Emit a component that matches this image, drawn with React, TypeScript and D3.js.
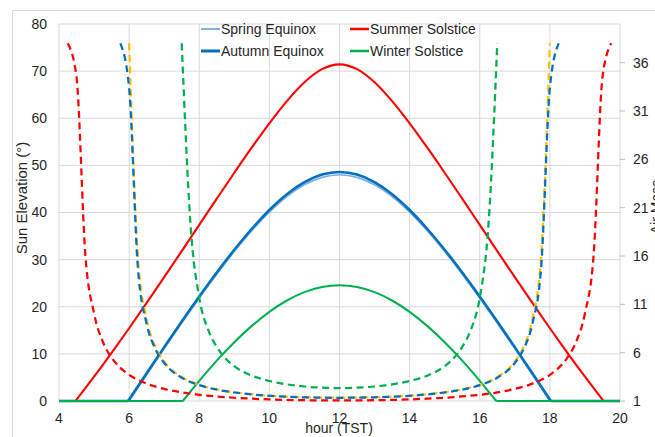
import React from "react";
import * as d3 from "d3";

// ---- Data ----
const xTicks = [4, 6, 8, 10, 12, 14, 16, 18, 20];
const leftTicks = [0, 10, 20, 30, 40, 50, 60, 70, 80];
const rightTicks = [1, 6, 11, 16, 21, 26, 31, 36];

// Sun elevation (°)
const springHours = [4, 6, 6.5, 7, 7.5, 8, 8.5, 9, 9.5, 10, 10.5, 11, 11.5, 12, 12.5, 13, 13.5, 14, 14.5, 15, 15.5, 16, 16.5, 17, 17.5, 18, 20];
const springElev = [0, 0, 5.57, 11.09, 16.52, 21.81, 26.9, 31.7, 36.12, 40.06, 43.36, 45.87, 47.45, 48.0, 47.45, 45.87, 43.36, 40.06, 36.12, 31.7, 26.9, 21.81, 16.52, 11.09, 5.57, 0, 0];

const summerHours = [4, 4.47, 4.5, 5, 5.5, 6, 6.5, 7, 7.5, 8, 8.5, 9, 9.5, 10, 10.5, 11, 11.5, 12, 12.5, 13, 13.5, 14, 14.5, 15, 15.5, 16, 16.5, 17, 17.5, 18, 18.5, 19, 19.5, 19.53, 20];
const summerElev = [0, 0, 0.3, 5.15, 10.21, 15.44, 20.81, 26.28, 31.81, 37.38, 42.94, 48.44, 53.81, 58.93, 63.64, 67.64, 70.42, 71.44, 70.42, 67.64, 63.64, 58.93, 53.81, 48.44, 42.94, 37.38, 31.81, 26.28, 20.81, 15.44, 10.21, 5.15, 0.3, 0, 0];

const autumnHours = [4, 5.97, 6, 6.5, 7, 7.5, 8, 8.5, 9, 9.5, 10, 10.5, 11, 11.5, 12, 12.5, 13, 13.5, 14, 14.5, 15, 15.5, 16, 16.5, 17, 17.5, 18, 18.03, 20];
const autumnElev = [0, 0, 0.33, 5.9, 11.43, 16.87, 22.17, 27.27, 32.09, 36.55, 40.53, 43.87, 46.42, 48.05, 48.6, 48.05, 46.42, 43.87, 40.53, 36.55, 32.09, 27.27, 22.17, 16.87, 11.43, 5.9, 0.33, 0, 0];

const winterHours = [4, 7.53, 8, 8.5, 9, 9.5, 10, 10.5, 11, 11.5, 12, 12.5, 13, 13.5, 14, 14.5, 15, 15.5, 16, 16.47, 20];
const winterElev = [0, 0, 4.28, 8.56, 12.47, 15.94, 18.92, 21.33, 23.1, 24.19, 24.56, 24.19, 23.1, 21.33, 18.92, 15.94, 12.47, 8.56, 4.28, 0, 0];

// Air mass (right axis)
const springAMHours = [6, 6.25, 6.5, 6.75, 7, 7.5, 8, 8.5, 9, 9.5, 10, 10.5, 11, 11.5, 12, 12.5, 13, 13.5, 14, 14.5, 15, 15.5, 16, 16.5, 17, 17.25, 17.5, 17.75, 18];
const springAM = [38, 15.9, 9.43, 6.6, 5.07, 3.48, 2.68, 2.21, 1.9, 1.7, 1.55, 1.46, 1.39, 1.36, 1.35, 1.36, 1.39, 1.46, 1.55, 1.7, 1.9, 2.21, 2.68, 3.48, 5.07, 6.6, 9.43, 15.9, 38];

const summerAMHours = [4.25, 4.5, 4.75, 5, 5.25, 5.5, 5.75, 6, 6.5, 7, 7.5, 8, 8.5, 9, 9.5, 10, 10.5, 11, 11.5, 12, 12.5, 13, 13.5, 14, 14.5, 15, 15.5, 16, 16.5, 17, 17.5, 18, 18.25, 18.5, 18.75, 19, 19.25, 19.5, 19.75];
const summerAM = [38, 34.5, 16.2, 10.06, 7.13, 5.48, 4.43, 3.71, 2.8, 2.25, 1.89, 1.645, 1.468, 1.336, 1.239, 1.167, 1.116, 1.081, 1.061, 1.055, 1.061, 1.081, 1.116, 1.167, 1.239, 1.336, 1.468, 1.645, 1.89, 2.25, 2.8, 3.71, 4.43, 5.48, 7.13, 10.06, 16.2, 34.5, 38];

const autumnAMHours = [5.75, 6, 6.25, 6.5, 6.75, 7, 7.5, 8, 8.5, 9, 9.5, 10, 10.5, 11, 11.5, 12, 12.5, 13, 13.5, 14, 14.5, 15, 15.5, 16, 16.5, 17, 17.25, 17.5, 17.75, 18, 18.25];
const autumnAM = [38, 33.4, 14.75, 8.97, 6.37, 4.93, 3.41, 2.64, 2.18, 1.88, 1.68, 1.54, 1.44, 1.38, 1.35, 1.33, 1.35, 1.38, 1.44, 1.54, 1.68, 1.88, 2.18, 2.64, 3.41, 4.93, 6.37, 8.97, 14.75, 33.4, 38];

const winterAMHours = [7.5, 7.75, 8, 8.25, 8.5, 8.75, 9, 9.5, 10, 10.5, 11, 11.5, 12, 12.5, 13, 13.5, 14, 14.5, 15, 15.25, 15.5, 15.75, 16, 16.25, 16.5];
const winterAM = [38, 19.3, 11.67, 8.4, 6.6, 5.4, 4.6, 3.62, 3.07, 2.72, 2.5, 2.38, 2.34, 2.38, 2.5, 2.72, 3.07, 3.62, 4.6, 5.4, 6.6, 8.4, 11.67, 19.3, 38];

const legendNames = ["Spring Equinox", "Autumn Equinox", "Summer Solstice", "Winter Solstice"];

// ---- Layout ----
const W = 655;
const H = 437;
const FONT = "'Liberation Sans', Arial, sans-serif";
const TEXT = "#262626";
const GRID = "#d9d9d9";

const x = d3.scaleLinear().domain([4, 20]).range([59, 620]);
const yL = d3.scaleLinear().domain([0, 80]).range([401, 24]);
const yR = d3.scaleLinear().domain([1, 40]).range([401, 24]);

type P = [number, number];
const zip = (h: number[], v: number[]): P[] => h.map((t, i) => [t, v[i]] as P);

const lineLin = d3.line<P>().x((d) => x(d[0])).y((d) => yL(d[1]));
const lineSmooth = d3.line<P>().x((d) => x(d[0])).y((d) => yL(d[1])).curve(d3.curveMonotoneX);
const lineAM = d3.line<P>().x((d) => x(d[0])).y((d) => yR(d[1])).curve(d3.curveMonotoneX);

function elevPaths(h: number[], v: number[]): string[] {
  const pts = zip(h, v);
  const i0 = v.findIndex((d) => d > 0);
  const i1 = v.length - 1 - [...v].reverse().findIndex((d) => d > 0);
  const before = pts.slice(0, i0);
  const day = pts.slice(i0 - 1, i1 + 2);
  const after = pts.slice(i1 + 1);
  return [lineLin(before) || "", lineSmooth(day) || "", lineLin(after) || ""];
}

const solids = [
  { h: springHours, v: springElev, color: "#7fb0e0", w: 1.6 },
  { h: summerHours, v: summerElev, color: "#ff0000", w: 2.1 },
  { h: autumnHours, v: autumnElev, color: "#0070c0", w: 2.6 },
  { h: winterHours, v: winterElev, color: "#00b050", w: 2.1 },
];

const dashed = [
  { h: springAMHours, v: springAM, color: "#ffc000" },
  { h: summerAMHours, v: summerAM, color: "#ff0000" },
  { h: autumnAMHours, v: autumnAM, color: "#0070c0" },
  { h: winterAMHours, v: winterAM, color: "#00b050" },
];

const legendItems = [
  { name: legendNames[0], color: "#7fb0e0", w: 1.6, lx: 201, ly: 29 },
  { name: legendNames[1], color: "#0070c0", w: 2.6, lx: 201, ly: 51 },
  { name: legendNames[2], color: "#ff0000", w: 2.1, lx: 350, ly: 29 },
  { name: legendNames[3], color: "#00b050", w: 2.1, lx: 350, ly: 51 },
];

export default function App() {
  return (
    <svg
      width={W}
      height={H}
      style={{ position: "absolute", left: 0, top: 0, background: "#fff" }}
      fontFamily={FONT}
    >
      <rect x={0} y={0} width={W} height={H} fill="#fff" />
      <rect x={12.5} y={10.5} width={700} height={500} fill="none" stroke={GRID} strokeWidth={1} />

      {/* gridlines */}
      {leftTicks.map((t) => (
        <line key={"hg" + t} x1={x(4)} x2={x(20)} y1={yL(t)} y2={yL(t)} stroke={GRID} strokeWidth={1} />
      ))}
      {xTicks.map((t) => (
        <line key={"vg" + t} x1={x(t)} x2={x(t)} y1={yL(0)} y2={yL(80)} stroke={GRID} strokeWidth={1} />
      ))}

      {/* right axis ticks */}
      {rightTicks.map((t) => (
        <line key={"rt" + t} x1={x(20)} x2={x(20) + 5} y1={yR(t)} y2={yR(t)} stroke="#bfbfbf" strokeWidth={1} />
      ))}

      {/* solid elevation lines */}
      {solids.map((s, i) => (
        <g key={"s" + i} fill="none" stroke={s.color} strokeWidth={s.w} strokeLinejoin="round">
          {elevPaths(s.h, s.v).map((d, j) => (
            <path key={j} d={d} />
          ))}
        </g>
      ))}

      {/* dashed air mass lines */}
      {dashed.map((s, i) => (
        <path
          key={"d" + i}
          d={lineAM(zip(s.h, s.v)) || ""}
          fill="none"
          stroke={s.color}
          strokeWidth={2.25}
          strokeDasharray="7 4.5"
        />
      ))}

      {/* left tick labels */}
      {leftTicks.map((t) => (
        <text key={"lt" + t} x={47} y={yL(t)} dy="0.35em" textAnchor="end" fontSize={14} fill={TEXT}>
          {t}
        </text>
      ))}
      {/* right tick labels */}
      {rightTicks.map((t) => (
        <text key={"rl" + t} x={633} y={yR(t)} dy="0.35em" textAnchor="start" fontSize={14} fill={TEXT}>
          {t}
        </text>
      ))}
      {/* x tick labels */}
      {xTicks.map((t) => (
        <text key={"xt" + t} x={x(t)} y={423} textAnchor="middle" fontSize={14} fill={TEXT}>
          {t}
        </text>
      ))}

      {/* axis titles */}
      <text x={339} y={433} textAnchor="middle" fontSize={14} fill={TEXT}>
        hour (TST)
      </text>
      <text transform="translate(27,198) rotate(-90)" textAnchor="middle" fontSize={15} fill={TEXT}>
        Sun Elevation (°)
      </text>
      <text transform="translate(661,207) rotate(-90)" textAnchor="middle" fontSize={14} fill={TEXT}>
        Air Mass
      </text>

      {/* legend */}
      {legendItems.map((it) => (
        <g key={it.name}>
          <line x1={it.lx} x2={it.lx + 19} y1={it.ly} y2={it.ly} stroke={it.color} strokeWidth={it.w + 0.4} />
          <text x={it.lx + 20} y={it.ly} dy="0.35em" fontSize={14} fill={TEXT}>
            {it.name}
          </text>
        </g>
      ))}
    </svg>
  );
}
